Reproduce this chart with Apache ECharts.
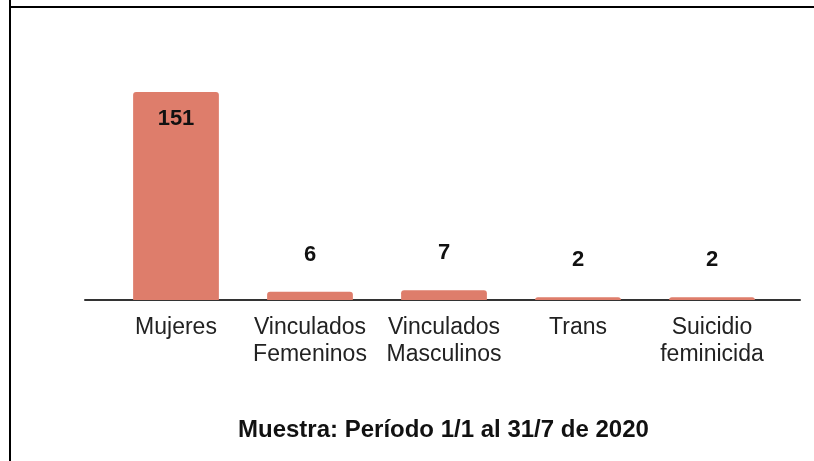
<!DOCTYPE html>
<html><head><meta charset="utf-8">
<script src="https://cdn.jsdelivr.net/npm/echarts@6/dist/echarts.min.js"></script>
<style>html,body{margin:0;padding:0;background:#fff}#c{width:814px;height:461px}</style>
</head><body><div id="c"></div>
<script>
const categories = ['Mujeres', 'Vinculados\nFemeninos', 'Vinculados\nMasculinos', 'Trans', 'Suicidio\nfeminicida'];
const values = [151, 6, 7, 2, 2];
const titleText = 'Muestra: Período 1/1 al 31/7 de 2020';

const FONT = '"Liberation Sans", Arial, sans-serif';
const chart = echarts.init(document.getElementById('c'), null, {renderer: 'canvas'});
chart.setOption({
  backgroundColor: '#fff',
  animation: false,
  title: {
    text: titleText, left: 233, top: 413,
    textStyle: {fontFamily: FONT, fontSize: 24, fontWeight: 'bold', color: '#111'}
  },
  graphic: [
    {type: 'line', shape: {x1: 10, y1: 0, x2: 10, y2: 461}, style: {stroke: '#000', lineWidth: 2}},
    {type: 'line', shape: {x1: 9, y1: 7, x2: 814, y2: 7}, style: {stroke: '#000', lineWidth: 2}}
  ],
  grid: [
    {left: 85, right: 14, top: 92, bottom: 161},
    {left: 109, right: 35, top: 92, bottom: 161}
  ],
  xAxis: [
    {gridIndex: 0, type: 'category', data: [''], axisLine: {lineStyle: {color: '#333', width: 2}},
     axisTick: {show: false}, axisLabel: {show: false}},
    {gridIndex: 1, type: 'category', data: categories, axisLine: {show: false}, axisTick: {show: false},
     axisLabel: {fontFamily: FONT, fontSize: 23, color: '#222', lineHeight: 27, margin: 14, interval: 0}}
  ],
  yAxis: [
    {gridIndex: 0, type: 'value', min: 0, max: 151, show: false},
    {gridIndex: 1, type: 'value', min: 0, max: 151, show: false}
  ],
  series: [{
    type: 'bar', xAxisIndex: 1, yAxisIndex: 1,
    barWidth: '64%',
    itemStyle: {color: '#DE7D6B', borderRadius: [3, 3, 0, 0]},
    label: {show: true, position: 'top', distance: 26, fontFamily: FONT, fontSize: 22, fontWeight: 'bold', color: '#111'},
    data: values.map((v, i) => i === 0 ? {value: v, label: {position: 'insideTop', distance: 16}} : v)
  }]
});
</script></body></html>
